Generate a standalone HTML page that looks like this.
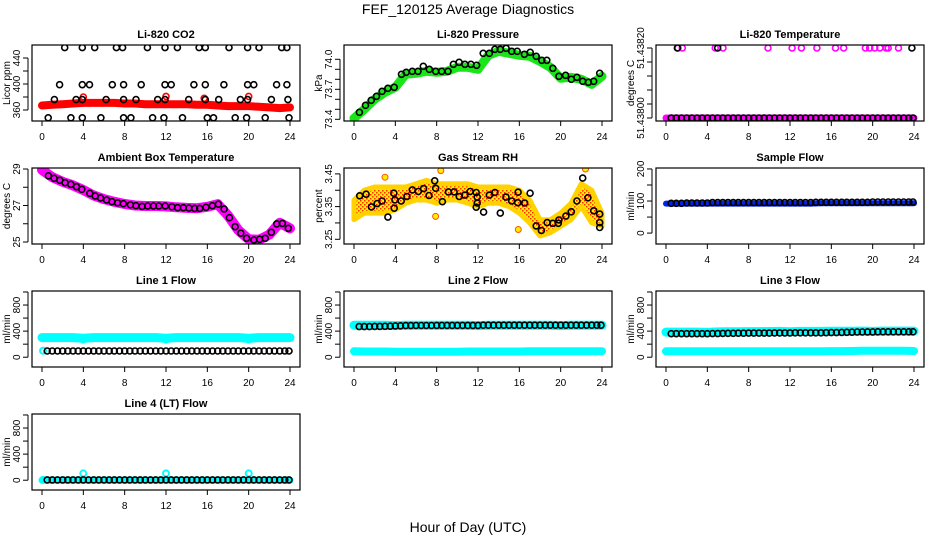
<!DOCTYPE html>
<html><head><meta charset="utf-8"><style>
html,body{margin:0;padding:0;background:#fff}
svg{display:block;font-family:"Liberation Sans",sans-serif}
</style></head><body>
<svg id="chart" width="936" height="540" viewBox="0 0 936 540">
<defs>
<pattern id="rhpat" width="4" height="4" patternUnits="userSpaceOnUse">
<rect width="4" height="4" fill="#ffee00"/>
<rect x="0" y="0" width="1.5" height="1.5" fill="#ff2a00"/>
<rect x="2" y="2" width="1.5" height="1.5" fill="#ff2a00"/>
</pattern>
</defs>
<text x="468" y="14" text-anchor="middle" font-size="14">FEF_120125  Average Diagnostics</text>
<text x="468" y="532" text-anchor="middle" font-size="14">Hour of Day (UTC)</text>
</svg>
<script>
const hrs = [0,1,2,3,4,5,6,7,8,9,10,11,12,13,14,15,16,17,18,19,20,21,22,23,24];
const tGrid = [0.5,1,1.5,2,2.5,3,3.5,4,4.5,5,5.5,6,6.5,7,7.5,8,8.5,9,9.5,10,10.5,11,11.5,12,12.5,13,13.5,14,14.5,15,15.5,16,16.5,17,17.5,18,18.5,19,19.5,20,20.5,21,21.5,22,22.5,23,23.5,23.9];
const xTicks = [0,4,8,12,16,20,24];

// CO2
const co2Red = [367,368,369,370,371,371,371,371,370,370,369,369,369,369,369,368,368,367,366,366,366,365,364,363,364];
const co2RedOutX = [4.0,12.0,15.7,20.0];
const co2RedOutY = [380,381,378,381];
const co2BlackX = [2.2,3.9,5.1,7.2,7.8,10.2,11.9,13.1,15.2,15.8,18.1,19.9,21.0,23.2,23.7, 1.7,3.9,4.6,6.8,7.9,9.6,11.9,12.5,14.7,15.8,17.6,19.9,20.5,22.7,23.7, 1.2,3.3,3.9,6.2,7.9,9.1,11.2,11.9,14.2,15.8,17.1,19.2,19.9,22.2,23.8, 0.6,2.8,3.9,5.7,7.9,8.6,10.7,11.8,13.6,16.0,16.6,18.7,19.8,21.6,23.9];
const co2BlackY = [456,456,456,456,456,456,456,456,456,456,456,456,456,456,456, 399,399,399,399,399,399,399,399,399,399,399,399,399,399,399, 376,376,376,376,376,376,376,376,376,376,376,376,376,376,376, 348,348,348,348,348,348,348,348,348,348,348,348,348,348,348];

// Pressure
const presGreen = [73.41,73.50,73.60,73.67,73.72,73.85,73.86,73.88,73.87,73.88,73.92,73.92,73.90,74.04,74.08,74.06,74.04,74.03,73.98,73.92,73.81,73.82,73.80,73.75,73.83];
const presBlackX = [0.52,1.11,1.66,2.18,2.72,3.28,3.89,4.6,5.05,5.64,6.19,6.71,7.29,7.91,8.49,9.1,9.62,10.17,10.73,11.31,11.86,12.5,13.09,13.64,14.16,14.72,15.26,15.79,16.49,17.05,17.63,18.17,18.66,19.24,19.83,20.48,21.03,21.57,22.13,22.68,23.2,23.78];
const presBlackY = [73.47,73.54,73.59,73.63,73.68,73.71,73.72,73.85,73.87,73.88,73.88,73.93,73.90,73.88,73.88,73.88,73.95,73.97,73.95,73.95,73.94,74.06,74.06,74.10,74.10,74.11,74.08,74.08,74.05,74.07,74.03,73.99,73.99,73.91,73.83,73.84,73.80,73.82,73.78,73.77,73.78,73.86];

// Li-820 temperature
const ltMag = [51.438,51.438,51.438,51.438,51.438,51.438,51.438,51.438,51.438,51.438,51.438,51.438,51.438,51.438,51.438,51.438,51.438,51.438,51.438,51.438,51.438,51.438,51.438,51.438,51.438];
const ltMagTopX = [1.16,1.58,4.77,5.52,9.87,12.2,13.1,14.6,16.4,17.2,19.3,19.7,20.2,20.7,21.3,21.5,22.5];
const ltMagTopY = [51.4382,51.4382,51.4382,51.4382,51.4382,51.4382,51.4382,51.4382,51.4382,51.4382,51.4382,51.4382,51.4382,51.4382,51.4382,51.4382,51.4382];
const ltBlackY = [51.438,51.438,51.438,51.438,51.438,51.438,51.438,51.438,51.438,51.438,51.438,51.438,51.438,51.438,51.438,51.438,51.438,51.438,51.438,51.438,51.438,51.438,51.438,51.438,51.438,51.438,51.438,51.438,51.438,51.438,51.438,51.438,51.438,51.438,51.438,51.438,51.438,51.438,51.438,51.438,51.438,51.438,51.438,51.438,51.438,51.438,51.438,51.438];
const ltBlackTopX = [1.1,5.0,23.8];
const ltBlackTopY = [51.4382,51.4382,51.4382];

// Ambient box temperature
const ambMag = [28.95,28.55,28.3,28.1,27.85,27.55,27.35,27.2,27.08,27.0,26.97,26.97,26.95,26.9,26.87,26.85,26.93,27.07,26.45,25.65,25.15,25.12,25.4,26.05,25.75];
const ambBlackX = [0.62,1.17,1.72,2.24,2.79,3.34,3.85,4.63,5.15,5.67,6.25,6.77,7.32,7.87,8.55,9.1,9.69,10.23,10.79,11.3,11.92,12.57,13.12,13.67,14.22,14.77,15.26,15.87,16.49,17.07,17.62,18.14,18.69,19.24,19.8,20.51,21.06,21.6,22.19,22.71,23.26,23.84];
const ambBlackY = [28.63,28.49,28.38,28.25,28.16,28.03,27.89,27.67,27.52,27.41,27.30,27.21,27.15,27.10,27.04,26.99,26.95,26.97,26.97,26.97,26.97,26.93,26.88,26.88,26.86,26.84,26.84,26.90,26.99,27.07,26.81,26.33,25.84,25.48,25.20,25.11,25.15,25.20,25.53,25.99,26.02,25.75];

// Gas stream RH
const rhLow = [3.31,3.33,3.33,3.33,3.34,3.36,3.37,3.37,3.36,3.37,3.37,3.36,3.35,3.36,3.36,3.35,3.33,3.30,3.26,3.27,3.29,3.31,3.35,3.30,3.29];
const rhHigh = [3.37,3.40,3.41,3.41,3.41,3.41,3.42,3.43,3.42,3.42,3.42,3.42,3.41,3.41,3.41,3.41,3.40,3.37,3.31,3.31,3.33,3.36,3.42,3.40,3.33];
const rhOutX = [3.0,7.9,8.4,15.9,22.4];
const rhOutY = [3.44,3.32,3.46,3.28,3.465];
const rhBlackX = [0.55,1.17,1.69,2.24,2.72,3.28,3.86,3.89,3.96,4.57,5.12,5.64,6.22,6.74,7.26,7.81,7.91,8.55,9.14,9.69,10.18,10.73,11.24,11.83,11.83,11.92,11.92,12.54,13.09,13.64,14.16,14.71,15.26,15.84,15.88,16.52,17.04,17.63,18.14,18.7,19.24,19.77,19.83,20.51,21.03,21.57,22.13,22.64,23.2,23.78,23.78,23.78];
const rhBlackY = [3.383,3.388,3.349,3.359,3.367,3.318,3.391,3.345,3.370,3.367,3.381,3.401,3.396,3.405,3.384,3.429,3.406,3.365,3.395,3.395,3.381,3.385,3.396,3.393,3.348,3.361,3.379,3.333,3.385,3.393,3.330,3.379,3.367,3.362,3.394,3.361,3.391,3.291,3.277,3.301,3.299,3.299,3.309,3.321,3.334,3.367,3.437,3.377,3.337,3.327,3.301,3.286];

// Sample flow
const sfBlue = [92,92,92,92,92,92,92,92,92,92,92,92,92,92,92,93,93,93,93,93,93,93,93,93,93];
const sfBlack = [93,93,93,94,94,94,94,94,95,95,95,95,95,95,95,95,95,95,95,95,95,95,95,95,95,95,95,95,96,96,96,96,96,96,96,96,96,96,96,97,97,97,97,97,97,97,97,97];

// Line 1 flow
const l1Cyan = [300,300,300,300,290,300,300,300,300,300,300,300,290,300,300,300,300,300,300,300,290,300,300,300,300];
const l1CyanPtX = [0.1,4.0,12.0,20.0];
const l1CyanPtY = [100,270,270,270];
const l1Black = [95,95,95,95,95,95,95,95,95,95,95,95,95,95,95,95,95,95,95,95,95,95,95,95,95,95,95,95,95,95,95,95,95,95,95,95,95,95,95,95,95,95,95,95,95,95,95,95];

// Line 2 flow
const l2CyanHi = [490,490,490,490,485,490,490,490,490,490,490,490,485,490,490,490,490,490,490,490,485,490,490,490,490];
const l2CyanLo = [90,88,88,88,85,85,85,85,85,85,85,88,88,88,88,88,88,90,90,90,90,90,90,90,92];
const l2Black = [470,470,470,472,472,474,476,480,482,484,485,486,486,486,486,488,488,488,488,488,488,488,488,488,490,490,490,490,490,490,490,490,490,490,490,490,490,490,490,490,490,490,490,490,490,490,490,490];

// Line 3 flow
const l3CyanHi = [385,385,385,385,380,388,390,390,392,393,394,395,390,395,396,396,397,397,398,400,395,400,400,400,400];
const l3CyanLo = [90,90,90,90,90,90,90,90,90,90,90,90,92,92,92,92,94,94,96,98,100,100,100,98,96];
const l3Black = [360,360,360,360,360,360,360,360,362,362,365,366,367,368,368,369,370,370,370,370,372,372,372,372,374,375,375,375,375,375,376,377,378,380,382,384,386,386,388,388,390,390,390,390,390,390,390,390];

// Line 4 flow
const l4Cyan = [0,0,0,0,0,0,0,0,0,0,0,0,0,0,0,0,0,0,0,0,0,0,0,0,0];
const l4CyanPtX = [0.1,4.0,12.0,20.0];
const l4CyanPtY = [5,105,105,105];
const l4Black = [5,5,5,5,5,5,5,5,5,5,5,5,5,5,5,5,5,5,5,5,5,5,5,5,5,5,5,5,5,5,5,5,5,5,5,5,5,5,5,5,5,5,5,5,5,5,5,5];

const NS = 'http://www.w3.org/2000/svg';
const svg = document.getElementById('chart');
const colX = [0,312,624];
const rowY = [45,168,291,414];
const BOXL = 32, BOXR = 300, BOXH = 76;

function mk(tag, attrs, parent){
  const e = document.createElementNS(NS, tag);
  for (const k in attrs) e.setAttribute(k, attrs[k]);
  (parent||svg).appendChild(e);
  return e;
}

function panel(p){
  const left = colX[p.col] + BOXL, right = colX[p.col] + BOXR;
  const top = rowY[p.row], bottom = top + BOXH;
  const g = mk('g', {});
  
  
  const xs = v => left + 10 + (v/24)*(right - left - 20);
  const ys = v => bottom - (v - p.ymin)/(p.ymax - p.ymin)*BOXH;
  const clipId = 'clip-' + p.name;
  const cp = mk('clipPath', {id: clipId}, g);
  mk('rect', {x: left, y: top, width: right-left, height: BOXH}, cp);
  const dg = mk('g', {'clip-path': 'url(#' + clipId + ')'}, g);
  
  

  p.series.forEach(s => {
    if (s.type === 'band') {
      const d = s.x.map((v,i) => (i?'L':'M') + xs(v).toFixed(1) + ' ' + ys(s.y[i]).toFixed(1)).join(' ');
      const e = mk('path', {d: d, fill: 'none', stroke: s.color, 'stroke-width': s.w, 'stroke-linejoin': 'round', 'stroke-linecap': 'round'}, dg);
      
      
    } else if (s.type === 'area') {
      let d = s.x.map((v,i) => (i?'L':'M') + xs(v).toFixed(1) + ' ' + ys(s.hi[i]).toFixed(1)).join(' ');
      for (let i = s.x.length-1; i >= 0; i--) d += ' L' + xs(s.x[i]).toFixed(1) + ' ' + ys(s.lo[i]).toFixed(1);
      const e = mk('path', {d: d + ' Z', fill: 'url(#rhpat)', stroke: '#ffd200', 'stroke-width': 5, 'stroke-linejoin': 'round'}, dg);
      
      
    } else {
      s.x.forEach((v,i) => {
        const c = mk('circle', {cx: xs(v).toFixed(1), cy: ys(s.y[i]).toFixed(1), r: s.r || 3, fill: s.fill || 'none', stroke: s.color, 'stroke-width': s.sw || 1.6}, dg);
        
        
      });
    }
  });

  const box = mk('rect', {x: left, y: top, width: right-left, height: BOXH, fill: 'none', stroke: '#000', 'stroke-width': 1.2}, g);
  
  

  const t = mk('text', {x: (left+right)/2, y: top - 7, 'text-anchor': 'middle', 'font-size': 11, 'font-weight': 'bold'}, g);
  t.textContent = p.title;
  
  

  const xa = mk('g', {}, g);
  
  
  xTicks.forEach(v => {
    mk('line', {x1: xs(v), x2: xs(v), y1: bottom, y2: bottom + 5, stroke: '#000'}, xa);
    const l = mk('text', {x: xs(v), y: bottom + 19, 'text-anchor': 'middle', 'font-size': 10}, xa);
    l.textContent = v;
    
    
  });

  const ya = mk('g', {}, g);
  
  
  const y0 = ys(p.yticks[0]), y1 = ys(p.yticks[p.yticks.length-1]);
  mk('line', {x1: left - 4, x2: left - 4, y1: y0, y2: y1, stroke: '#000'}, ya);
  p.yticks.forEach(v => {
    mk('line', {x1: left - 9, x2: left - 4, y1: ys(v), y2: ys(v), stroke: '#000'}, ya);
  });
  p.ylabels.forEach((lab, i) => {
    const yy = ys(p.ylabelVals[i]);
    const lx = colX[p.col] + 20;
    const l = mk('text', {x: lx, y: yy, 'text-anchor': 'middle', 'font-size': 10, transform: 'rotate(-90 ' + lx + ' ' + yy + ')'}, ya);
    l.textContent = lab;
    
    
  });
  const yl = colX[p.col] + 10, ym = (top+bottom)/2;
  const yt = mk('text', {x: yl, y: ym, 'text-anchor': 'middle', 'font-size': 10, transform: 'rotate(-90 ' + yl + ' ' + ym + ')'}, g);
  yt.textContent = p.ylab;
  
  
}

const flowTicks = [0,200,400,600,800,1000];
const panels = [
  {name:'co2', title:'Li-820 CO2', col:0, row:0, ymin:343.1, ymax:460, ylab:'Licor ppm',
   yticks:[360,380,400,420,440], ylabels:['360','400','440'], ylabelVals:[360,400,440],
   series:[
     {type:'band', name:'co2-red-band', x:hrs, y:co2Red, color:'#ff0000', w:8},
     {type:'pts', name:'co2-red-point', x:co2RedOutX, y:co2RedOutY, color:'#ff0000'},
     {type:'pts', name:'co2-black-point', x:co2BlackX, y:co2BlackY, color:'#000'}]},
  {name:'pressure', title:'Li-820 Pressure', col:1, row:0, ymin:73.383, ymax:74.143, ylab:'kPa',
   yticks:[73.4,73.5,73.6,73.7,73.8,73.9,74.0], ylabels:['73.4','73.7','74.0'], ylabelVals:[73.4,73.7,74.0],
   series:[
     {type:'band', name:'pressure-green-band', x:hrs, y:presGreen, color:'#19e619', w:9},
     {type:'pts', name:'pressure-black-point', x:presBlackX, y:presBlackY, color:'#000'}]},
  {name:'li-temp', title:'Li-820 Temperature', col:2, row:0, ymin:51.4379914, ymax:51.4382086, ylab:'degrees C',
   yticks:[51.438,51.43804,51.43808,51.43812,51.43816,51.4382], ylabels:['51.43800','51.43820'], ylabelVals:[51.438,51.4382],
   series:[
     {type:'band', name:'li-temp-magenta-band', x:hrs, y:ltMag, color:'#ff00ff', w:7},
     {type:'pts', name:'li-temp-magenta-point', x:ltMagTopX, y:ltMagTopY, color:'#ff00ff'},
     {type:'pts', name:'li-temp-black-point', x:tGrid, y:ltBlackY, color:'#000'},
     {type:'pts', name:'li-temp-black-top-point', x:ltBlackTopX, y:ltBlackTopY, color:'#000'}]},
  {name:'ambient', title:'Ambient Box Temperature', col:0, row:1, ymin:24.89, ymax:29.055, ylab:'degrees C',
   yticks:[25,26,27,28,29], ylabels:['25','27','29'], ylabelVals:[25,27,29],
   series:[
     {type:'band', name:'ambient-magenta-band', x:hrs, y:ambMag, color:'#ff00ff', w:10},
     {type:'pts', name:'ambient-black-point', x:ambBlackX, y:ambBlackY, color:'#000'}]},
  {name:'rh', title:'Gas Stream RH', col:1, row:1, ymin:3.2356, ymax:3.468, ylab:'percent',
   yticks:[3.25,3.30,3.35,3.40,3.45], ylabels:['3.25','3.35','3.45'], ylabelVals:[3.25,3.35,3.45],
   series:[
     {type:'area', name:'rh-orange-cloud', x:hrs, lo:rhLow, hi:rhHigh},
     {type:'pts', name:'rh-orange-point', x:rhOutX, y:rhOutY, color:'#ff5500', fill:'#ffee00', sw:1},
     {type:'pts', name:'rh-black-point', x:rhBlackX, y:rhBlackY, color:'#000'}]},
  {name:'sample-flow', title:'Sample Flow', col:2, row:1, ymin:-34, ymax:203, ylab:'ml/min',
   yticks:[0,50,100,150,200], ylabels:['0','100','200'], ylabelVals:[0,100,200],
   series:[
     {type:'band', name:'sample-flow-blue-band', x:hrs, y:sfBlue, color:'#0022ee', w:6},
     {type:'pts', name:'sample-flow-black-point', x:tGrid, y:sfBlack, color:'#000'}]},
  {name:'line1-flow', title:'Line 1 Flow', col:0, row:2, ymin:-150, ymax:1015, ylab:'ml/min',
   yticks:flowTicks, ylabels:['0','400','800'], ylabelVals:[0,400,800],
   series:[
     {type:'band', name:'line1-cyan-band', x:hrs, y:l1Cyan, color:'#00ffff', w:9},
     {type:'pts', name:'line1-cyan-point', x:l1CyanPtX, y:l1CyanPtY, color:'#00ffff', sw:2},
     {type:'pts', name:'line1-black-point', x:tGrid, y:l1Black, color:'#000'}]},
  {name:'line2-flow', title:'Line 2 Flow', col:1, row:2, ymin:-150, ymax:1015, ylab:'ml/min',
   yticks:flowTicks, ylabels:['0','400','800'], ylabelVals:[0,400,800],
   series:[
     {type:'band', name:'line2-cyan-upper-band', x:hrs, y:l2CyanHi, color:'#00ffff', w:9},
     {type:'band', name:'line2-cyan-lower-band', x:hrs, y:l2CyanLo, color:'#00ffff', w:8},
     {type:'pts', name:'line2-black-point', x:tGrid, y:l2Black, color:'#000'}]},
  {name:'line3-flow', title:'Line 3 Flow', col:2, row:2, ymin:-150, ymax:1015, ylab:'ml/min',
   yticks:flowTicks, ylabels:['0','400','800'], ylabelVals:[0,400,800],
   series:[
     {type:'band', name:'line3-cyan-upper-band', x:hrs, y:l3CyanHi, color:'#00ffff', w:9},
     {type:'band', name:'line3-cyan-lower-band', x:hrs, y:l3CyanLo, color:'#00ffff', w:8},
     {type:'pts', name:'line3-black-point', x:tGrid, y:l3Black, color:'#000'}]},
  {name:'line4-flow', title:'Line 4 (LT) Flow', col:0, row:3, ymin:-150, ymax:1015, ylab:'ml/min',
   yticks:flowTicks, ylabels:['0','400','800'], ylabelVals:[0,400,800],
   series:[
     {type:'band', name:'line4-cyan-band', x:hrs, y:l4Cyan, color:'#00ffff', w:7},
     {type:'pts', name:'line4-cyan-point', x:l4CyanPtX, y:l4CyanPtY, color:'#00ffff', sw:2},
     {type:'pts', name:'line4-black-point', x:tGrid, y:l4Black, color:'#000'}]}
];
panels.forEach(panel);
</script>
</body></html>
